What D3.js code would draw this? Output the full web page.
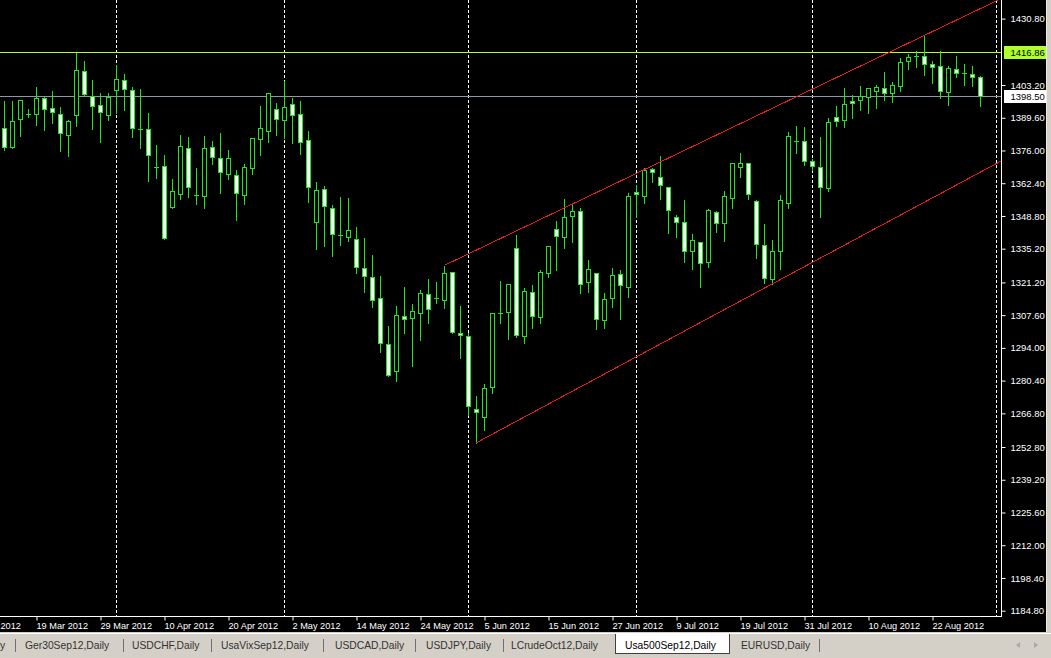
<!DOCTYPE html>
<html><head><meta charset="utf-8">
<script src="https://cdn.jsdelivr.net/npm/d3@7"></script>
<style>
html,body{margin:0;padding:0;background:#000;overflow:hidden;}
svg{display:block;}
text{font-family:"Liberation Sans",Arial,sans-serif;}
</style></head><body>
<svg id="c" width="1051" height="658"></svg>
<script>
// ---- data (Usa500Sep12, Daily) ----
const opens=[1385.2,1377.6,1389.0,1391.2,1391.0,1397.9,1393.5,1391.0,1382.3,1390.9,1408.9,1398.5,1394.8,1390.9,1401.0,1405.2,1401.0,1384.9,1384.8,1369.3,1369.4,1352.7,1358.1,1376.9,1357.5,1357.2,1377.6,1372.8,1366.4,1365.7,1357.4,1368.9,1380.9,1384.2,1393.1,1388.7,1395.2,1391.0,1380.2,1346.3,1360.0,1352.0,1341.0,1340.2,1339.2,1327.1,1323.3,1314.6,1295.6,1284.5,1307.2,1306.3,1308.6,1316.3,1314.6,1313.9,1325.4,1300.1,1298.9,1268.5,1265.2,1277.9,1308.6,1308.8,1335.4,1299.1,1317.1,1307.0,1325.0,1343.3,1339.9,1348.7,1350.7,1321.5,1325.2,1305.6,1314.6,1324.6,1319.4,1358.6,1357.2,1368.2,1364.9,1360.7,1348.2,1346.2,1334.4,1337.9,1329.8,1350.5,1346.0,1356.4,1369.3,1370.7,1354.9,1336.6,1322.5,1334.4,1354.3,1379.9,1379.8,1371.8,1369.0,1360.5,1390.0,1388.5,1396.6,1397.0,1398.4,1400.6,1401.9,1399.8,1402.9,1413.1,1415.4,1415.3,1411.9,1411.1,1400.4,1409.7,1408.3,1407.8,1406.4];
const highs=[1397.0,1397.0,1397.0,1393.5,1402.8,1398.6,1401.1,1394.5,1389.2,1416.9,1413.6,1405.6,1400.2,1400.4,1411.9,1408.2,1402.8,1401.8,1392.0,1378.7,1374.5,1364.7,1382.7,1381.9,1369.3,1382.3,1380.4,1383.6,1376.6,1368.3,1370.7,1381.7,1394.8,1399.9,1396.3,1405.3,1398.4,1397.0,1384.5,1363.5,1361.7,1353.8,1357.1,1356.8,1344.6,1339.9,1333.0,1324.3,1303.5,1311.8,1319.7,1312.5,1318.3,1322.9,1321.8,1328.3,1325.5,1311.8,1300.5,1274.4,1279.3,1308.6,1322.2,1320.5,1341.3,1319.4,1320.4,1326.6,1336.3,1347.0,1356.1,1354.5,1352.4,1330.9,1325.2,1317.1,1327.5,1326.6,1358.6,1362.1,1369.3,1369.3,1374.1,1361.0,1349.6,1355.7,1341.6,1337.9,1352.0,1351.4,1359.5,1370.8,1375.3,1371.1,1355.7,1345.9,1339.2,1357.9,1384.1,1386.6,1386.2,1372.9,1382.0,1389.9,1394.8,1402.5,1399.5,1403.2,1402.5,1403.6,1408.9,1405.0,1415.0,1416.4,1417.8,1424.4,1413.6,1417.8,1411.5,1415.7,1412.2,1411.5,1407.4];
const lows=[1376.2,1377.0,1382.0,1390.0,1386.6,1384.5,1387.3,1375.9,1373.8,1386.3,1398.6,1385.1,1379.7,1388.7,1391.7,1392.8,1381.7,1377.2,1363.5,1364.7,1339.3,1352.0,1356.0,1356.8,1353.6,1352.2,1370.4,1358.5,1364.3,1347.1,1353.8,1366.1,1374.0,1379.7,1382.4,1381.1,1379.3,1374.5,1354.7,1335.1,1336.3,1332.2,1336.7,1338.4,1325.2,1317.3,1311.1,1292.4,1282.3,1280.4,1300.1,1286.5,1297.3,1304.5,1312.5,1310.5,1300.1,1289.9,1266.1,1254.6,1259.9,1275.1,1304.2,1297.7,1298.6,1296.1,1302.4,1304.5,1323.6,1326.4,1335.6,1337.9,1316.7,1317.3,1301.7,1302.4,1311.1,1305.9,1315.3,1348.5,1354.1,1363.0,1356.0,1341.6,1340.2,1329.8,1326.9,1319.2,1327.7,1342.3,1338.5,1352.0,1365.1,1355.7,1331.2,1320.8,1320.7,1326.9,1352.0,1375.1,1370.0,1367.9,1348.5,1359.3,1386.2,1385.6,1389.4,1392.8,1391.5,1393.5,1396.9,1396.3,1400.9,1409.7,1410.8,1407.4,1403.9,1397.7,1394.9,1406.7,1403.2,1402.9,1394.6];
const closes=[1377.3,1388.3,1396.9,1391.2,1397.7,1393.1,1391.9,1383.1,1388.3,1409.3,1399.3,1394.4,1391.9,1398.1,1405.6,1401.7,1385.2,1384.9,1374.0,1369.3,1339.5,1359.2,1377.7,1360.7,1357.5,1376.9,1373.4,1366.9,1372.8,1358.2,1369.0,1381.1,1385.2,1399.8,1389.2,1393.9,1390.6,1379.7,1360.7,1359.6,1353.1,1341.2,1341.0,1343.0,1327.7,1324.0,1313.9,1296.2,1282.7,1307.5,1306.1,1309.3,1316.7,1310.0,1314.6,1325.0,1300.5,1299.2,1269.9,1267.5,1277.2,1308.4,1308.6,1320.4,1299.5,1317.6,1307.2,1325.4,1336.3,1340.4,1348.2,1350.7,1320.7,1326.6,1305.9,1314.3,1324.2,1320.0,1357.1,1357.8,1367.9,1366.9,1361.5,1351.1,1346.2,1334.3,1338.8,1329.1,1351.1,1345.8,1357.1,1370.7,1370.7,1357.8,1337.3,1322.9,1334.1,1355.3,1381.9,1379.9,1371.8,1369.6,1360.7,1387.7,1388.3,1395.3,1395.6,1398.6,1401.9,1402.3,1399.9,1403.2,1412.9,1414.7,1415.4,1411.9,1410.8,1400.7,1410.1,1408.1,1408.3,1406.7,1398.5];
const tickBars=[4,12,20,28,36,44,52,60,68,76,84,92,100,108,116];
const tickLabels=["19 Mar 2012","29 Mar 2012","10 Apr 2012","20 Apr 2012","2 May 2012","14 May 2012","24 May 2012","5 Jun 2012","15 Jun 2012","27 Jun 2012","9 Jul 2012","19 Jul 2012","31 Jul 2012","10 Aug 2012","22 Aug 2012"];
const partialTickLabel="2012";   // visible tail of the "7 Mar 2012" label at the left edge
const priceTicks=[1430.80,1403.20,1389.60,1376.00,1362.40,1348.80,1335.20,1321.20,1307.60,1294.00,1280.40,1266.80,1252.80,1239.20,1225.60,1212.00,1198.40,1184.80];
const separatorBars=[14,35,58,79,101,124];
const levelPrices=[1416.86,1398.50];
const upperChannel=[[55,1328.3],[119,1430.2]];
const lowerChannel=[[59,1254.6],[124,1370.6]];
const tabNames=["y","Ger30Sep12,Daily","USDCHF,Daily","UsaVixSep12,Daily","USDCAD,Daily","USDJPY,Daily","LCrudeOct12,Daily","Usa500Sep12,Daily","EURUSD,Daily"];
const activeTab="Usa500Sep12,Daily";

// ---- layout / style ----
const W=1051,H=658, plotR=1001, plotB=616;
const GREEN="#28e028", RED="#e02020", LEVEL_COLORS=["#adff2f","#8e98a4"], LABEL_BG=["#adff2f","#ffffff"];
const tabX=[0,25,132,221,335,426,511,625,741];
const tabSeps=[15,123,211.5,323,415,503,819.5];

const svg=d3.select("#c");
svg.append("rect").attr("width",W).attr("height",H).attr("fill","#000");
svg.append("defs").append("clipPath").attr("id","clip").append("rect").attr("width",plotR).attr("height",plotB);

const x=d3.scaleLinear().domain([0,122]).range([4.5,980.5]);
const y=d3.scaleLinear().domain([1184.8,1430.8]).range([610.7,18.6]);
const py=v=>Math.round(y(v))+0.5;

const plot=svg.append("g").attr("clip-path","url(#clip)");

// separators
plot.selectAll("line.sep").data(separatorBars).join("line").attr("class","sep")
  .attr("x1",d=>x(d)).attr("x2",d=>x(d)).attr("y1",0).attr("y2",plotB)
  .attr("stroke","#fff").attr("stroke-dasharray","3,2").attr("shape-rendering","crispEdges");

// level lines
plot.selectAll("line.lvl").data(levelPrices).join("line").attr("class","lvl")
  .attr("x1",0).attr("x2",plotR).attr("y1",d=>py(d)).attr("y2",d=>py(d))
  .attr("stroke",(d,i)=>LEVEL_COLORS[i]).attr("shape-rendering","crispEdges");

// candles
const data=opens.map((o,i)=>({i,o,h:highs[i],l:lows[i],c:closes[i]}));
const cg=plot.append("g").attr("shape-rendering","crispEdges");
cg.selectAll("line.wick").data(data).join("line").attr("class","wick")
  .attr("x1",d=>x(d.i)).attr("x2",d=>x(d.i)).attr("y1",d=>py(d.h)).attr("y2",d=>py(d.l)).attr("stroke",GREEN);
const doji=d=>Math.abs(py(d.o)-py(d.c))<1;
cg.selectAll("rect.body").data(data.filter(d=>!doji(d))).join("rect").attr("class","body")
  .attr("x",d=>x(d.i)-2).attr("width",4)
  .attr("y",d=>py(Math.max(d.o,d.c))).attr("height",d=>py(Math.min(d.o,d.c))-py(Math.max(d.o,d.c)))
  .attr("fill",d=>d.c>d.o?"#000":"#f4fff4").attr("stroke",GREEN);
cg.selectAll("line.doji").data(data.filter(doji)).join("line").attr("class","doji")
  .attr("x1",d=>x(d.i)-2.5).attr("x2",d=>x(d.i)+2.5).attr("y1",d=>py(d.c)).attr("y2",d=>py(d.c)).attr("stroke",GREEN);

// channel rays
const xEnd=x.invert(plotR);
[upperChannel,lowerChannel].forEach(pts=>{
  const [[b0,p0],[b1,p1]]=pts, s=(p1-p0)/(b1-b0);
  plot.append("line").attr("x1",x(b0)).attr("y1",y(p0)).attr("x2",x(xEnd)).attr("y2",y(p0+s*(xEnd-b0)))
    .attr("stroke",RED).attr("stroke-width",1).attr("shape-rendering","crispEdges");
});

// frame
svg.append("path").attr("d",`M${plotR+0.5},0V${plotB+0.5}H0`).attr("fill","none").attr("stroke","#fff").attr("shape-rendering","crispEdges");

// y axis
svg.append("g").attr("transform",`translate(${plotR+0.5},0)`)
  .call(d3.axisRight(y).tickValues(priceTicks).tickFormat(d3.format(".2f")).tickSize(4).tickPadding(5))
  .call(g=>g.select(".domain").remove())
  .call(g=>g.selectAll("line").attr("stroke","#fff"))
  .call(g=>g.selectAll("text").attr("fill","#fff").attr("font-size",9.5).attr("font-family","Liberation Sans, Arial, sans-serif"));

// level labels
const lv=svg.append("g");
levelPrices.forEach((p,i)=>{
  lv.append("rect").attr("x",1004).attr("y",Math.round(y(p))-6).attr("width",42).attr("height",13).attr("fill",LABEL_BG[i]);
  lv.append("text").attr("x",1010.5).attr("y",Math.round(y(p))+4).attr("font-size",9.5).attr("fill","#000").text(d3.format(".2f")(p));
});

// x axis
svg.append("g").attr("transform",`translate(0,${plotB+0.5})`)
  .call(d3.axisBottom(x).tickValues(tickBars).tickFormat((d,k)=>tickLabels[k]).tickSize(4).tickPadding(2))
  .call(g=>g.select(".domain").remove())
  .call(g=>g.selectAll("line").attr("stroke","#fff"))
  .call(g=>g.selectAll("text").attr("fill","#fff").attr("font-size",9.2).attr("text-anchor","start").attr("dx",-0.5)
     .attr("font-family","Liberation Sans, Arial, sans-serif"));
svg.append("text").attr("x",0.5).attr("y",629).attr("font-size",9.2).attr("fill","#fff").text(partialTickLabel);

// right window edge
svg.append("rect").attr("x",1046).attr("y",0).attr("width",5).attr("height",633).attr("fill","#d4d0c8");
svg.append("line").attr("x1",1046.5).attr("x2",1046.5).attr("y1",0).attr("y2",633).attr("stroke","#ffffff").attr("stroke-opacity",0.6);

// tab bar
const tb=svg.append("g");
tb.append("rect").attr("x",0).attr("y",632).attr("width",W).attr("height",26).attr("fill","#d4d0c8");
tb.append("line").attr("x1",0).attr("x2",W).attr("y1",633.5).attr("y2",633.5).attr("stroke","#ffffff");
tb.append("rect").attr("x",615.5).attr("y",634).attr("width",114).attr("height",19).attr("fill","#fff");
tb.append("path").attr("d","M615.5,634V653.5H729.5V634").attr("fill","none").attr("stroke","#404040").attr("shape-rendering","crispEdges");
tb.selectAll("line.tsep").data(tabSeps).join("line").attr("class","tsep")
  .attr("x1",d=>d).attr("x2",d=>d).attr("y1",639).attr("y2",652).attr("stroke","#707070").attr("shape-rendering","crispEdges");
tb.selectAll("text.tab").data(tabNames).join("text").attr("class","tab")
  .attr("x",(d,i)=>tabX[i]).attr("y",649).attr("font-size",10.3)
  .attr("fill",d=>d===activeTab?"#000":"#333").text(d=>d);
tb.append("path").attr("d","M1020,642L1016,645L1020,648Z").attr("fill","#a8a8a8");
tb.append("path").attr("d","M1034,642L1038,645L1034,648Z").attr("fill","#a8a8a8");
</script>
</body></html>
